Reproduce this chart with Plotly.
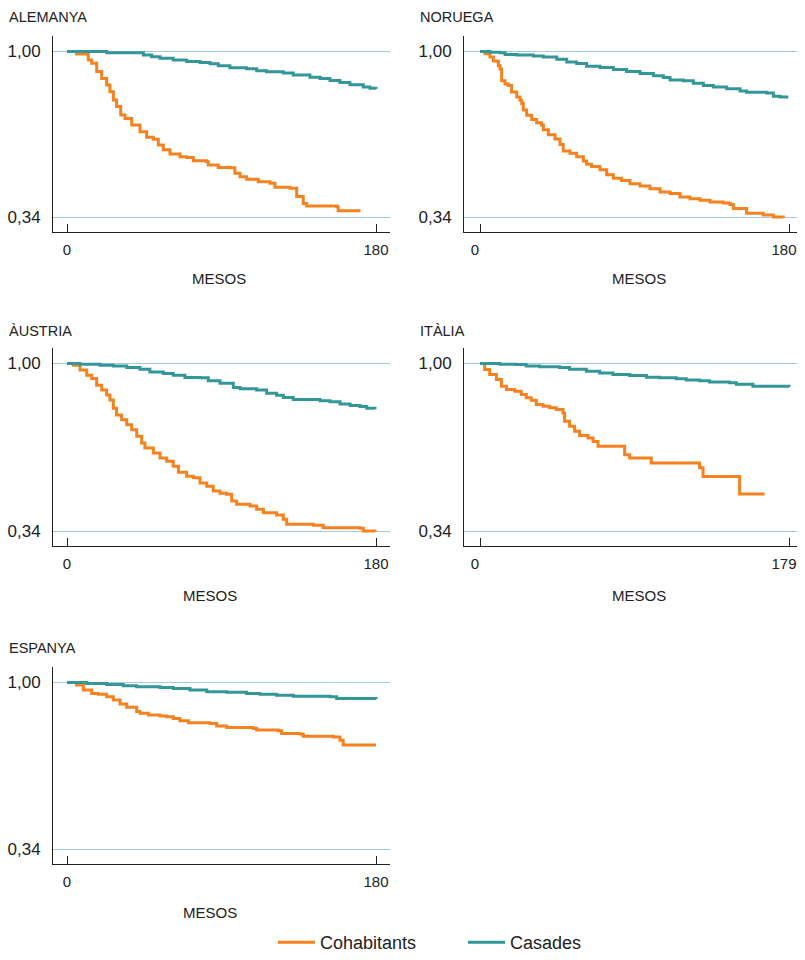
import plotly.graph_objects as go

# ---------------- data (months, survival proportion) ----------------
ale_coh_t = [0, 5.6, 12.4, 14.4, 17.3, 20.2, 23.1, 25.0, 27.0, 28.9, 31.3, 33.8, 37.7, 42.5, 46.4, 50.3, 53.2, 56.1, 60.0, 65.8, 69.7, 73.6, 81.3, 82.3, 88.1, 94.9, 97.8, 100.8, 104.6, 111.4, 118.2, 121.1, 129.9, 133.8, 137.6, 139.6, 157.1, 158.0, 171.0]
ale_coh_v = [1.0, 0.990, 0.966, 0.953, 0.920, 0.893, 0.867, 0.840, 0.807, 0.781, 0.748, 0.734, 0.708, 0.681, 0.659, 0.651, 0.628, 0.609, 0.592, 0.582, 0.579, 0.566, 0.562, 0.549, 0.539, 0.538, 0.516, 0.502, 0.492, 0.482, 0.476, 0.460, 0.456, 0.423, 0.396, 0.386, 0.383, 0.367, 0.367]
ale_cas_t = [0, 7.6, 23.1, 38.6, 44.5, 49.3, 54.2, 61.9, 69.7, 77.5, 83.3, 88.1, 94.9, 104.6, 110.5, 116.3, 126.0, 131.8, 141.5, 147.4, 153.2, 159.0, 164.8, 172.6, 176.5, 180]
ale_cas_v = [1.0, 1.0, 0.995, 0.995, 0.986, 0.979, 0.973, 0.966, 0.960, 0.956, 0.951, 0.943, 0.935, 0.931, 0.923, 0.919, 0.915, 0.907, 0.898, 0.893, 0.885, 0.877, 0.868, 0.859, 0.854, 0.851]

nor_coh_t = [0, 2.9, 5.8, 7.8, 10.7, 11.7, 12.6, 14.6, 16.5, 18.4, 21.4, 23.3, 24.3, 25.2, 27.2, 30.1, 33.0, 35.9, 36.9, 39.8, 43.7, 46.6, 48.5, 52.4, 56.3, 60.2, 62.1, 65.0, 69.9, 73.8, 77.7, 82.5, 87.4, 93.2, 99.0, 104.9, 110.7, 116.5, 122.3, 128.2, 134.0, 141.7, 145.6, 147.6, 155.3, 165.0, 170.9, 176.7]
nor_coh_v = [1.0, 0.991, 0.978, 0.962, 0.943, 0.930, 0.884, 0.871, 0.865, 0.839, 0.819, 0.806, 0.793, 0.767, 0.747, 0.730, 0.717, 0.708, 0.689, 0.669, 0.652, 0.630, 0.604, 0.595, 0.582, 0.565, 0.552, 0.543, 0.530, 0.510, 0.496, 0.487, 0.474, 0.465, 0.454, 0.441, 0.435, 0.422, 0.415, 0.409, 0.402, 0.398, 0.392, 0.376, 0.357, 0.350, 0.342, 0.340]
nor_cas_t = [0, 5.8, 11.7, 14.6, 21.4, 31.1, 36.9, 44.7, 50.5, 56.3, 62.1, 69.9, 77.7, 85.4, 93.2, 101.0, 106.8, 110.7, 118.4, 124.3, 130.1, 135.9, 143.7, 151.5, 155.3, 167.0, 170.9, 174.8, 179.6]
nor_cas_v = [1.0, 0.997, 0.995, 0.988, 0.986, 0.982, 0.978, 0.969, 0.958, 0.952, 0.941, 0.936, 0.928, 0.920, 0.913, 0.904, 0.897, 0.887, 0.884, 0.874, 0.865, 0.859, 0.852, 0.843, 0.838, 0.835, 0.822, 0.819, 0.819]

aus_coh_t = [0, 3.7, 7.6, 11.5, 14.4, 17.3, 20.2, 23.1, 25.0, 27.0, 28.9, 31.8, 34.8, 37.7, 40.6, 43.5, 45.4, 50.3, 54.2, 58.1, 61.9, 64.9, 69.7, 73.6, 77.5, 81.4, 85.2, 89.1, 93.0, 95.9, 98.8, 106.6, 110.5, 114.4, 122.1, 126.0, 128.0, 143.5, 149.3, 170.7, 172.6, 179.4]
aus_coh_v = [1.0, 0.993, 0.974, 0.954, 0.941, 0.915, 0.896, 0.876, 0.857, 0.824, 0.798, 0.779, 0.759, 0.740, 0.714, 0.688, 0.668, 0.648, 0.629, 0.616, 0.596, 0.573, 0.557, 0.551, 0.531, 0.518, 0.499, 0.490, 0.486, 0.460, 0.447, 0.440, 0.427, 0.414, 0.405, 0.388, 0.368, 0.365, 0.355, 0.353, 0.342, 0.339]
aus_cas_t = [0, 7.6, 19.2, 27.0, 34.8, 42.5, 48.3, 56.1, 61.9, 68.7, 77.5, 82.3, 89.1, 96.9, 100.8, 106.6, 110.5, 116.3, 122.1, 126.0, 131.8, 141.6, 147.4, 153.2, 159.0, 164.9, 170.7, 174.6, 179.4]
aus_cas_v = [1.0, 0.997, 0.993, 0.990, 0.984, 0.977, 0.967, 0.961, 0.954, 0.945, 0.944, 0.932, 0.922, 0.906, 0.901, 0.901, 0.896, 0.883, 0.875, 0.866, 0.859, 0.859, 0.854, 0.850, 0.841, 0.835, 0.831, 0.824, 0.820]

ita_coh_t = [0, 2.7, 5.6, 9.5, 12.4, 15.3, 20.1, 23.9, 26.8, 29.7, 32.6, 36.5, 40.4, 44.2, 48.1, 49.0, 51.9, 54.8, 57.7, 62.6, 65.5, 68.4, 81.9, 83.8, 86.7, 97.3, 99.2, 125.3, 127.2, 129.2, 149.4, 150.4, 164.9]
ita_coh_v = [1.0, 0.976, 0.957, 0.937, 0.911, 0.898, 0.891, 0.878, 0.865, 0.856, 0.839, 0.832, 0.826, 0.819, 0.806, 0.773, 0.753, 0.734, 0.717, 0.707, 0.694, 0.675, 0.675, 0.642, 0.629, 0.629, 0.609, 0.609, 0.590, 0.556, 0.556, 0.487, 0.487]
ita_cas_t = [0, 11.4, 21.0, 26.8, 34.6, 46.1, 51.9, 61.6, 69.3, 77.0, 86.7, 96.4, 104.1, 113.7, 119.5, 127.2, 133.0, 144.6, 148.5, 158.1, 169.7, 179.0]
ita_cas_v = [1.0, 0.997, 0.996, 0.990, 0.987, 0.984, 0.977, 0.970, 0.963, 0.957, 0.953, 0.946, 0.944, 0.940, 0.935, 0.932, 0.927, 0.924, 0.918, 0.911, 0.911, 0.908]

esp_coh_t = [0, 5.6, 9.5, 14.4, 18.2, 23.1, 27.0, 30.9, 34.8, 40.6, 42.5, 47.4, 54.2, 58.0, 61.9, 65.8, 70.7, 83.3, 87.2, 93.0, 108.5, 110.5, 123.1, 125.0, 135.7, 137.6, 155.1, 159.0, 160.9, 180.0]
esp_coh_v = [1.0, 0.990, 0.970, 0.957, 0.954, 0.944, 0.931, 0.915, 0.902, 0.885, 0.878, 0.872, 0.868, 0.865, 0.858, 0.849, 0.841, 0.838, 0.828, 0.822, 0.818, 0.812, 0.809, 0.798, 0.796, 0.788, 0.785, 0.772, 0.753, 0.753]
esp_cas_t = [0, 11.5, 23.1, 32.8, 40.6, 54.2, 61.9, 71.6, 81.4, 93.0, 104.6, 112.4, 122.1, 131.8, 143.5, 153.2, 157.1, 180.0]
esp_cas_v = [1.0, 0.996, 0.992, 0.987, 0.983, 0.980, 0.976, 0.970, 0.963, 0.961, 0.957, 0.954, 0.950, 0.946, 0.946, 0.944, 0.937, 0.934]

countries = ["ALEMANYA", "NORUEGA", "ÀUSTRIA", "ITÀLIA", "ESPANYA"]
x_max = [180, 180, 180, 179, 180]
y_ticks = [0.34, 1.00]
y_tick_labels = ["0,34", "1,00"]
series_names = ["Cohabitants", "Casades"]
x_label = "MESOS"

data = [
    (ale_coh_t, ale_coh_v, ale_cas_t, ale_cas_v),
    (nor_coh_t, nor_coh_v, nor_cas_t, nor_cas_v),
    (aus_coh_t, aus_coh_v, aus_cas_t, aus_cas_v),
    (ita_coh_t, ita_coh_v, ita_cas_t, ita_cas_v),
    (esp_coh_t, esp_coh_v, esp_cas_t, esp_cas_v),
]

ORANGE = "#F6811F"
TEAL = "#33979A"
GRID = "#A6C8E8"
TXT = "#222222"
FONT = "Liberation Sans, Arial, sans-serif"

# ---------------- layout geometry (window pixels) ----------------
# the page body has an 8px margin, so the figure sits at (8, 8); keep the page
# inside the 805x960 window (8 + 944 + 8 = 960)
OFF = 8
W, H = 805 - OFF, 960 - 2 * OFF

def px_x(p):
    return (p - OFF) / W

def px_y(p):
    return 1 - (p - OFF) / H

panels = [
    dict(l=53, r=390, t=36, b=232, x0=67, x1=376, title=(7, 17), mesos=(219, 278), shift=0),
    dict(l=464, r=805, t=36, b=232, x0=480, x1=789, title=(418, 17), mesos=(639, 278), shift=-5),
    dict(l=53, r=390, t=348, b=546, x0=67, x1=376, title=(7, 331), mesos=(210, 595), shift=0),
    dict(l=464, r=805, t=348, b=546, x0=480, x1=789, title=(418, 331), mesos=(639, 595), shift=-5),
    dict(l=53, r=390, t=667, b=864, x0=67, x1=376, title=(7, 648), mesos=(210, 912), shift=0),
]

fig = go.Figure()
annotations = []
layout_axes = {}

for i, (p, name, xm, d) in enumerate(zip(panels, countries, x_max, data)):
    k = "" if i == 0 else str(i + 1)
    scale = (p["x1"] - p["x0"]) / xm
    xr = [-(p["x0"] - p["l"]) / scale, xm + (p["r"] - p["x1"]) / scale]
    hpx = p["b"] - p["t"]
    unit = (hpx - 30) / 0.66
    yr = [0.34 - 14.5 / unit, 1.0 + 15.5 / unit]

    coh_t, coh_v, cas_t, cas_v = d
    fig.add_trace(go.Scatter(x=coh_t, y=coh_v, mode="lines", line=dict(color=ORANGE, width=3, shape="hv"),
                             name=series_names[0], legendgroup="c", showlegend=(i == 0),
                             xaxis="x" + k, yaxis="y" + k))
    fig.add_trace(go.Scatter(x=cas_t, y=cas_v, mode="lines", line=dict(color=TEAL, width=3, shape="hv"),
                             name=series_names[1], legendgroup="m", showlegend=(i == 0),
                             xaxis="x" + k, yaxis="y" + k))

    layout_axes["xaxis" + k] = dict(
        domain=[px_x(p["l"]), min(1.0, px_x(p["r"]))], anchor="y" + k, range=xr, automargin=False,
        showgrid=False, zeroline=False, showline=True, linecolor="#222", linewidth=1,
        tickvals=[0, xm], ticktext=["0", str(xm)], ticks="inside", ticklen=8, tickcolor="#222",
        tickfont=dict(family=FONT, size=15, color=TXT), ticklabelstandoff=4,
        ticklabelshift=p["shift"], fixedrange=True,
    )
    layout_axes["yaxis" + k] = dict(
        domain=[px_y(p["b"]), px_y(p["t"])], anchor="x" + k, range=yr, automargin=False,
        showgrid=True, gridcolor=GRID, gridwidth=1, zeroline=False, showline=True,
        linecolor="#222", linewidth=1, tickvals=y_ticks, ticktext=y_tick_labels, ticks="",
        tickfont=dict(family=FONT, size=17, color=TXT), ticklabelstandoff=8, fixedrange=True,
    )
    annotations.append(dict(text=name, x=px_x(p["title"][0]), y=px_y(p["title"][1]), xref="paper", yref="paper",
                            xanchor="left", yanchor="middle", showarrow=False,
                            font=dict(family=FONT, size=14.5, color=TXT)))
    annotations.append(dict(text=x_label, x=px_x(p["mesos"][0]), y=px_y(p["mesos"][1]), xref="paper", yref="paper",
                            xanchor="center", yanchor="middle", showarrow=False,
                            font=dict(family=FONT, size=15, color=TXT)))

fig.update_layout(
    width=W, height=H, margin=dict(l=0, r=0, t=0, b=0, autoexpand=False),
    paper_bgcolor="white", plot_bgcolor="white",
    showlegend=True,
    legend=dict(orientation="h", x=px_x(273), xanchor="left", y=-9 / H, yanchor="bottom",
                font=dict(family=FONT, size=18, color=TXT), entrywidth=138, entrywidthmode="pixels",
                itemwidth=37, tracegroupgap=0, bgcolor="rgba(0,0,0,0)"),
    annotations=annotations,
    **layout_axes,
)

fig.write_html("out.html")
